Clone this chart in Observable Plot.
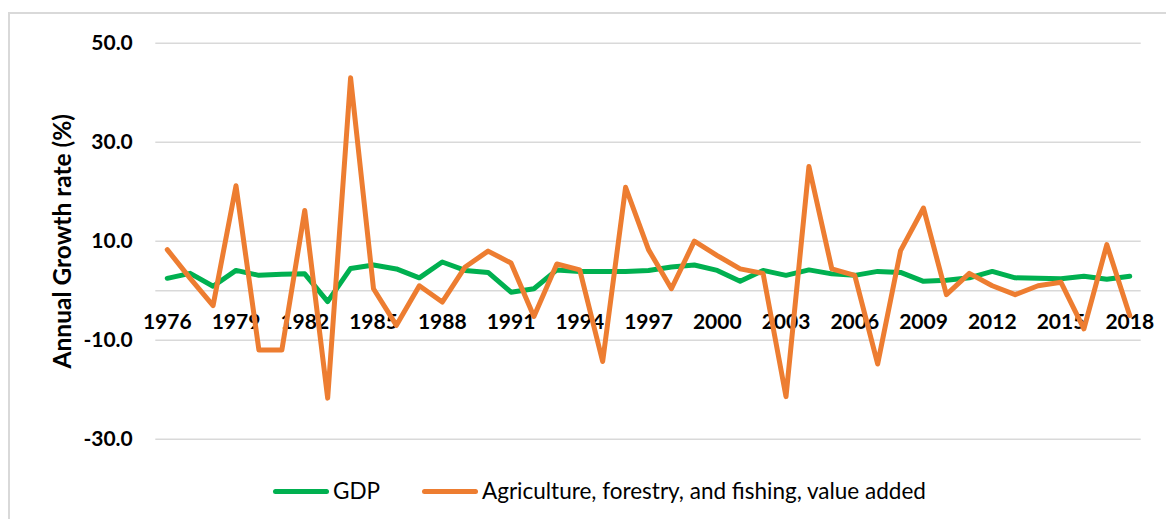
<!DOCTYPE html>
<html><head><meta charset="utf-8">
<script src="https://cdn.jsdelivr.net/npm/d3@7"></script>
<script src="https://cdn.jsdelivr.net/npm/@observablehq/plot@0.6"></script>
<style>
body{margin:0;background:#fff;font-family:Lato,sans-serif;}
#wrap{position:relative;width:1166px;height:519px;overflow:hidden;background:#fff;}
#frame{position:absolute;left:8px;top:12px;width:1200px;height:600px;border-left:2px solid #d9d9d9;border-top:2px solid #d9d9d9;}
#chart{position:absolute;left:0;top:0;}
.sw{position:absolute;height:5px;border-radius:3px;top:488.5px;}
.lt{position:absolute;top:477px;font-size:22.5px;line-height:28px;color:#000;white-space:nowrap;}
</style></head>
<body>
<div id="wrap">
  <div id="frame"></div>
  <div id="chart"></div>
  <div id="legend"></div>
</div>
<script>
const years = [1976,1977,1978,1979,1980,1981,1982,1983,1984,1985,1986,1987,1988,1989,1990,1991,1992,1993,1994,1995,1996,1997,1998,1999,2000,2001,2002,2003,2004,2005,2006,2007,2008,2009,2010,2011,2012,2013,2014,2015,2016,2017,2018];
const gdp = [2.5,3.5,0.9,4.1,3.1,3.3,3.4,-2.2,4.5,5.2, 4.4,2.6,5.8,4.1,3.7,-0.3,0.4,4.2,3.9,3.9, 3.9,4.1,4.8,5.2,4.1,1.9,4.1,3.1,4.2,3.4, 3.1,3.9,3.7,1.9,2.1,2.6,3.9,2.6,2.5,2.4, 2.9,2.3,2.9];
const agri = [8.3,2.5,-3.0,21.2,-12.0,-12.0,16.2,-21.7,43.0,0.4, -7.0,1.0,-2.3,4.8,8.0,5.6,-5.2,5.4,4.2,-14.3, 20.9,8.3,0.4,10.0,7.1,4.4,3.5,-21.4,25.1,4.4, 3.1,-14.8,8.1,16.7,-0.8,3.5,1.0,-0.8,1.0,1.7, -7.7,9.3,-5.0];
const xLabels = [1976,1979,1982,1985,1988,1991,1994,1997,2000,2003,2006,2009,2012,2015,2018];
const yTicks = [-30,-10,10,30,50];
const seriesNames = ["GDP","Agriculture, forestry, and fishing, value added"];
const colors = ["#00b050","#ed7d31"];
const yTitle = "Annual Growth rate (%)";

const gdpData = years.map((y,i)=>({year:y, value:gdp[i]}));
const agriData = years.map((y,i)=>({year:y, value:agri[i]}));

const chart = Plot.plot({
  width:1166, height:470,
  marginTop:42.7, marginBottom:31.3, marginLeft:155.3, marginRight:25.3,
  style:{fontFamily:"Lato, sans-serif", background:"transparent", color:"#000"},
  x:{type:"point", domain:years, padding:0.5, axis:null},
  y:{domain:[-30,50]},
  marks:[
    Plot.gridY(yTicks, {stroke:"#d9d9d9", strokeOpacity:1, strokeWidth:1.6}),
    Plot.ruleY([0], {stroke:"#d9d9d9", strokeWidth:1.6}),
    Plot.axisY(yTicks, {tickSize:0, tickPadding:23, tickFormat:d=>d.toFixed(1), fontSize:21, fontWeight:"bold", label:null}),
    Plot.text([yTitle], {frameAnchor:"left", textAnchor:"middle", rotate:-90, dx:-93, fontSize:24.5, fontWeight:"bold"}),
    Plot.text(xLabels, {x:d=>d, y:xLabels.map(()=>0), text:d=>String(d), dy:31.5, fontSize:21, fontWeight:"bold", fill:"#000"}),
    Plot.line(gdpData, {x:"year", y:"value", stroke:colors[0], strokeWidth:5, strokeLinejoin:"round", strokeLinecap:"round"}),
    Plot.line(agriData, {x:"year", y:"value", stroke:colors[1], strokeWidth:5, strokeLinejoin:"round", strokeLinecap:"round"})
  ]
});
document.getElementById("chart").appendChild(chart);

const legend = document.getElementById("legend");
const swX = [273, 422], txX = [333, 482];
seriesNames.forEach((n,i)=>{
  const s = document.createElement("div");
  s.className="sw"; s.style.left=swX[i]+"px"; s.style.width="56px"; s.style.background=colors[i];
  legend.appendChild(s);
  const t = document.createElement("div");
  t.className="lt"; t.style.left=txX[i]+"px"; t.textContent=n;
  legend.appendChild(t);
});
</script>
</body></html>
